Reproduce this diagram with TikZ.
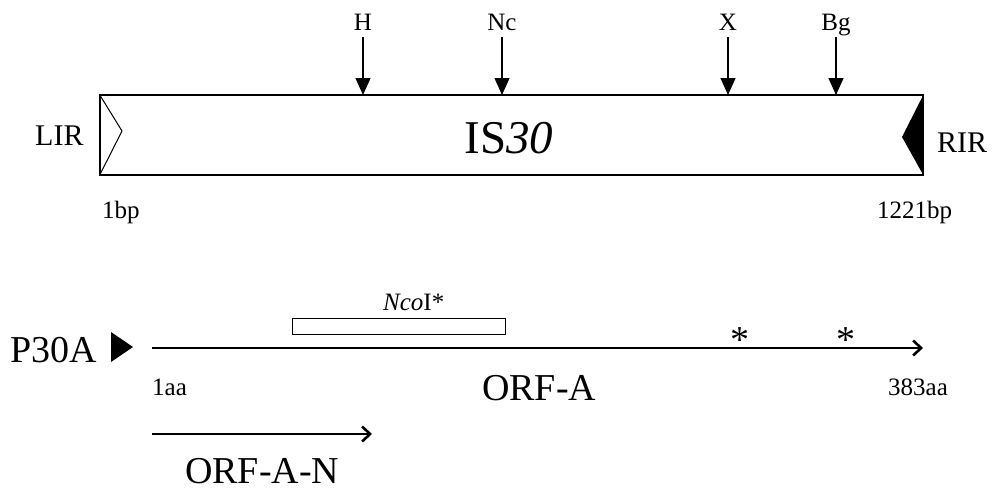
\documentclass[tikz,border=0pt]{standalone}
\usepackage{fontspec}
\setmainfont{Liberation Serif}
\usetikzlibrary{arrows.meta}
\tikzset{
  txt/.style={inner sep=0pt, anchor=base west},
  site/.style={inner sep=0pt, anchor=base, font=\fontsize{25}{28}\selectfont},
  cutarrow/.style={-{Triangle[length=17pt,width=15pt]}, line width=1.1pt},
  orfarrow/.style={-{Straight Barb[length=8pt,width=15pt,line width=2.6pt]}, line width=1.2pt},
  lbl/.style={font=\fontsize{25}{28}\selectfont},
  big/.style={font=\fontsize{38}{44}\selectfont},
  star/.style={inner sep=0pt, anchor=base, font=\fontsize{38}{40}\selectfont},
}
\begin{document}
\begin{tikzpicture}[x=1pt,y=-1pt]
\useasboundingbox (0,0) rectangle (993,491);
% IS30 box
\node[draw, line width=1.1pt, minimum width=823pt, minimum height=80pt, inner sep=0pt] (box) at (511.5,135) {};
\node[inner sep=0pt, anchor=base, font=\fontsize{47}{54}\selectfont] (is) at (509,153) {IS\textit{30}};
\coordinate (lirtip) at (122,131);
\coordinate (rirtip) at (902,137);
\draw[line width=1pt] (box.north west) -- (lirtip) -- (box.south west);
\fill (box.north east) -- (rirtip) -- (box.south east) -- cycle;
\node[txt, font=\fontsize{30}{36}\selectfont] (lir) at (35,145) {LIR};
\node[txt, font=\fontsize{30}{36}\selectfont] (rir) at (937,152) {RIR};
\node[txt, lbl] (bp1) at (102,218) {1bp};
\node[txt, lbl] (bp2) at (877,218) {1221bp};
% restriction sites
\node[site] (H) at (363,30) {H};
\node[site] (Nc) at (502,30) {Nc};
\node[site] (X) at (728,30) {X};
\node[site] (Bg) at (836,30) {Bg};
\foreach \n/\x in {H/363,Nc/502,X/728,Bg/836}{
  \coordinate (\n s) at (\x,37);
  \coordinate (\n e) at (\x,95);
  \draw[cutarrow] (\n s) -- (\n e);
}
% ORF-A
\node[txt, big] (p30a) at (10,362) {P30A};
\coordinate (pt1) at (111,332);
\coordinate (pt2) at (133,347);
\coordinate (pt3) at (111,362);
\fill (pt1) -- (pt2) -- (pt3) -- cycle;
\coordinate (orfs) at (152,348);
\coordinate (orfe) at (923,348);
\draw[orfarrow] (orfs) -- (orfe);
\node[draw, line width=1pt, minimum width=213pt, minimum height=16pt, inner sep=0pt] (nco) at (398.5,326) {};
\node[txt, lbl] (ncol) at (383,310) {\textit{Nco}I*};
\node[star] (st1) at (740,352) {*};
\node[star] (st2) at (846,352) {*};
\node[txt, lbl] (aa1) at (152,395) {1aa};
\node[txt, lbl] (aa2) at (888,395) {383aa};
\node[txt, big] (orfa) at (482,400) {ORF-A};
% ORF-A-N
\coordinate (ns) at (152,434);
\coordinate (ne) at (372,434);
\draw[orfarrow] (ns) -- (ne);
\node[txt, big] (orfan) at (185,483) {ORF-A-N};
\end{tikzpicture}
\end{document}
